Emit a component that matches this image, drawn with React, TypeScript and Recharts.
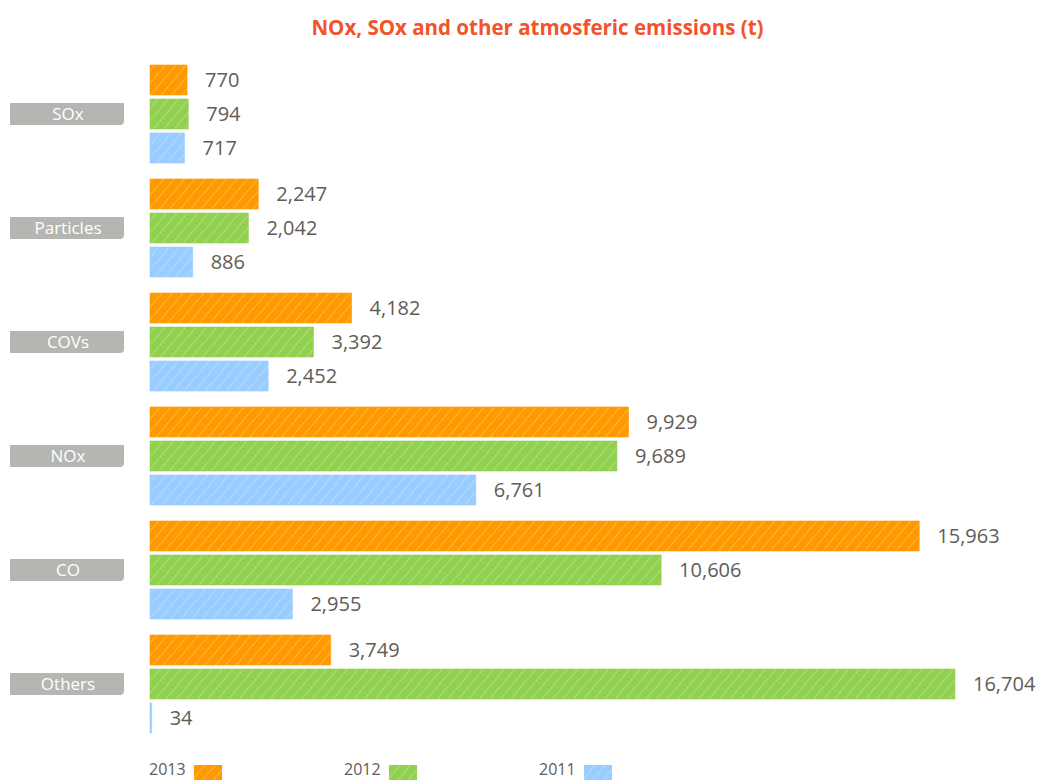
import { Bar, BarChart, LabelList, Legend, XAxis, YAxis } from "recharts"

const categories = ["SOx", "Particles", "COVs", "NOx", "CO", "Others"]
const values2013 = [770, 2247, 4182, 9929, 15963, 3749]
const values2012 = [794, 2042, 3392, 9689, 10606, 16704]
const values2011 = [717, 886, 2452, 6761, 2955, 34]
const years = ["2013", "2012", "2011"]

const colors: Record<string, string> = { "2013": "#ff9900", "2012": "#92d050", "2011": "#99ccff" }
const seriesValues: Record<string, number[]> = { "2013": values2013, "2012": values2012, "2011": values2011 }

const data = categories.map((name, i) => {
  const row: Record<string, string | number> = { name }
  years.forEach((y) => {
    row[y] = seriesValues[y][i]
  })
  return row
})

const font = "'Open Sans', 'Noto Sans', sans-serif"
const textColor = "#625c57"

const CategoryTick = (props: any) => {
  const { y, payload } = props
  const x0 = 10
  const w = 114
  const h = 22
  const top = y - h / 2
  const r = 4
  const d = `M${x0},${top} H${x0 + w} V${top + h - r} Q${x0 + w},${top + h} ${x0 + w - r},${top + h} H${x0} Z`
  return (
    <g>
      <path d={d} fill="#b5b5b2" />
      <text
        x={x0 + w / 2 + 1}
        y={y + 1}
        textAnchor="middle"
        dominantBaseline="middle"
        fill="#ffffff"
        fontSize={17}
        fontFamily={font}
      >
        {payload.value}
      </text>
    </g>
  )
}

const renderLegend = () => (
  <div style={{ position: "relative", width: 1039, height: 20 }}>
    {years.map((y, i) => (
      <div
        key={y}
        style={{
          position: "absolute",
          left: 149 + i * 195,
          top: 0,
          display: "flex",
          alignItems: "flex-start",
          fontFamily: font,
          fontSize: 16,
          color: textColor,
        }}
      >
        <span style={{ lineHeight: "18px" }}>{y}</span>
        <svg width={29} height={20} style={{ marginLeft: 8, marginTop: 5 }}>
          <rect x={0} y={0} width={28} height={20} fill={`url(#hatch-${y})`} />
        </svg>
      </div>
    ))}
  </div>
)

export default function App() {
  return (
    <div style={{ position: "absolute", left: 0, top: 0, width: 1039, height: 780, background: "#fff", overflow: "hidden" }}>
      <div
        style={{
          position: "absolute",
          top: 13,
          left: 0,
          width: 1075,
          textAlign: "center",
          fontFamily: font,
          fontWeight: 700,
          fontSize: 20.5,
          color: "#f2532a",
        }}
      >
        NOx, SOx and other atmosferic emissions (t)
      </div>
      <BarChart
        width={1039}
        height={780}
        data={data}
        layout="vertical"
        margin={{ top: 57, right: 84, bottom: 19, left: 0 }}
        barSize={30}
        barGap={4}
      >
        <defs>
          {years.map((y) => (
            <pattern
              key={y}
              id={`hatch-${y}`}
              patternUnits="userSpaceOnUse"
              width={8}
              height={8}
              patternTransform="rotate(40)"
            >
              <rect width={8} height={8} fill={colors[y]} />
              <line x1={0} y1={0} x2={0} y2={8} stroke="#ffffff" strokeOpacity={0.45} strokeWidth={1.2} />
            </pattern>
          ))}
        </defs>
        <XAxis type="number" domain={[0, 16704]} hide />
        <YAxis
          type="category"
          dataKey="name"
          width={150}
          axisLine={false}
          tickLine={false}
          tick={<CategoryTick />}
        />
        <Legend
          content={renderLegend}
          verticalAlign="bottom"
          wrapperStyle={{ position: "absolute", left: 0, top: 760, width: 1039 }}
        />
        {years.map((y) => (
          <Bar
            key={y}
            dataKey={y}
            fill={`url(#hatch-${y})`}
            stroke={colors[y]}
            strokeOpacity={0.6}
            isAnimationActive={false}
          >
            <LabelList
              dataKey={y}
              position="right"
              offset={18}
              fill={textColor}
              fontSize={20}
              fontFamily={font}
              formatter={(v: any) => Number(v).toLocaleString("en-US")}
            />
          </Bar>
        ))}
      </BarChart>
    </div>
  )
}
